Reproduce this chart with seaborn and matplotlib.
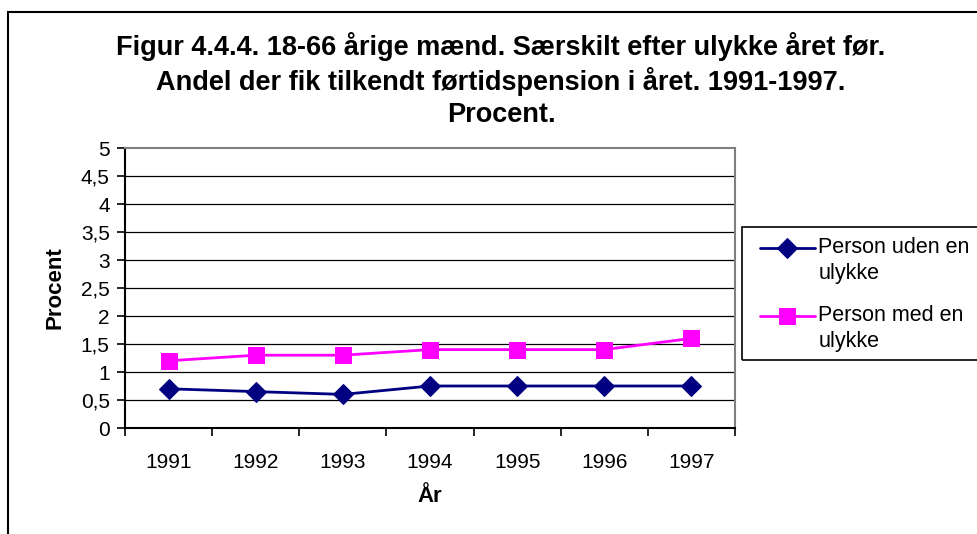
import matplotlib
matplotlib.use("Agg")
import matplotlib.pyplot as plt
import seaborn as sns
import pandas as pd
import numpy as np
from matplotlib.patches import Rectangle
from matplotlib.lines import Line2D
from matplotlib.legend_handler import HandlerLine2D

years = ["1991", "1992", "1993", "1994", "1995", "1996", "1997"]
uden = [0.7, 0.65, 0.6, 0.75, 0.75, 0.75, 0.75]
med = [1.2, 1.3, 1.3, 1.4, 1.4, 1.4, 1.6]
series_names = ["Person uden en\nulykke", "Person med en\nulykke"]
y_ticks = [0, 0.5, 1, 1.5, 2, 2.5, 3, 3.5, 4, 4.5, 5]
y_ticklabels = ["0", "0,5", "1", "1,5", "2", "2,5", "3", "3,5", "4", "4,5", "5"]
title = ("Figur 4.4.4. 18-66 årige mænd. Særskilt efter ulykke året før.\n"
         "Andel der fik tilkendt førtidspension i året. 1991-1997.\n"
         "Procent.")
ylabel = "Procent"
xlabel = "År"

sns.set_style("white")
plt.rcParams["font.family"] = ["Liberation Sans", "DejaVu Sans"]
plt.rcParams["text.color"] = "black"
plt.rcParams["axes.labelcolor"] = "black"
plt.rcParams["xtick.color"] = "black"
plt.rcParams["ytick.color"] = "black"


class TopAlignedHandler(HandlerLine2D):
    def create_artists(self, legend, orig_handle, xdescent, ydescent, width, height,
                       fontsize, trans):
        return super().create_artists(legend, orig_handle, xdescent, ydescent - 19.0,
                                      width, height, fontsize, trans)


fig = plt.figure(figsize=(9.77, 5.34), dpi=100)
fig.patch.set_facecolor("white")
ax = fig.add_axes([125/977, 1-428/534, (735-125)/977, (428-148)/534])

pos = np.arange(len(years))
df = pd.DataFrame({"pos": np.concatenate([pos, pos]),
                   "val": uden + med,
                   "serie": [series_names[0]]*len(years) + [series_names[1]]*len(years)})

sns.lineplot(data=df[df.serie == series_names[0]], x="pos", y="val", ax=ax,
             color="#000080", marker="D", markersize=10, markeredgecolor="#000080",
             linewidth=2, label=series_names[0])
sns.lineplot(data=df[df.serie == series_names[1]], x="pos", y="val", ax=ax,
             color="#FF00FF", marker="s", markersize=11, markeredgecolor="#FF00FF",
             linewidth=2, label=series_names[1])

ax.set_xlim(-0.5, len(years)-0.5)
ax.set_ylim(0, 5)
ax.set_yticks(y_ticks)
ax.set_yticklabels(y_ticklabels)
ax.set_xticks(pos)
ax.set_xticklabels(years)
ax.set_xticks(np.arange(-0.5, len(years)), minor=True)
ax.tick_params(axis="x", which="major", length=0, pad=18, labelsize=15, labelcolor="black")
ax.tick_params(axis="x", which="minor", length=6, width=1.2, color="black", direction="out", bottom=True)
ax.tick_params(axis="y", which="major", length=6, width=1.2, color="black", pad=5, labelsize=15,
               left=True, labelcolor="black")
for v in y_ticks[1:-1]:
    ax.axhline(v, color="black", linewidth=0.9, zorder=0)
ax.set_xlabel("")
ax.set_ylabel("")

for s in ["left", "bottom"]:
    ax.spines[s].set_color("black")
    ax.spines[s].set_linewidth(1.5)
for s in ["top", "right"]:
    ax.spines[s].set_color("#808080")
    ax.spines[s].set_linewidth(1.5)

fig.text(501/977, 1-80/534, title, ha="center", va="center", fontsize=19.5,
         fontweight="bold", linespacing=1.3, color="black")
fig.text(55/977, 1-288/534, ylabel, ha="center", va="center", rotation=90,
         fontsize=16, fontweight="bold", color="black")
fig.text(430/977, 1-497/534, xlabel, ha="center", va="center",
         fontsize=16, fontweight="bold", color="black")

leg = ax.legend(loc="upper left", bbox_to_anchor=(760/977, 1-237/534),
                bbox_transform=fig.transFigure, frameon=False,
                fontsize=15.5, handlelength=2.55, handletextpad=0.15,
                labelspacing=0.98, borderpad=0, borderaxespad=0,
                handler_map={Line2D: TopAlignedHandler()})
for t in leg.get_texts():
    t.set_linespacing(1.32)
    t.set_color("black")

fig.patches.append(Rectangle((742/977, 1-360/534), 0.3, (360-227)/534, transform=fig.transFigure,
                             fill=False, edgecolor="black", linewidth=1.2))
fig.patches.append(Rectangle((8/977, -0.1), 1.2, 1-12/534+0.1, transform=fig.transFigure,
                             fill=False, edgecolor="black", linewidth=1.5))

fig.savefig("out.png", dpi=100, facecolor="white")
